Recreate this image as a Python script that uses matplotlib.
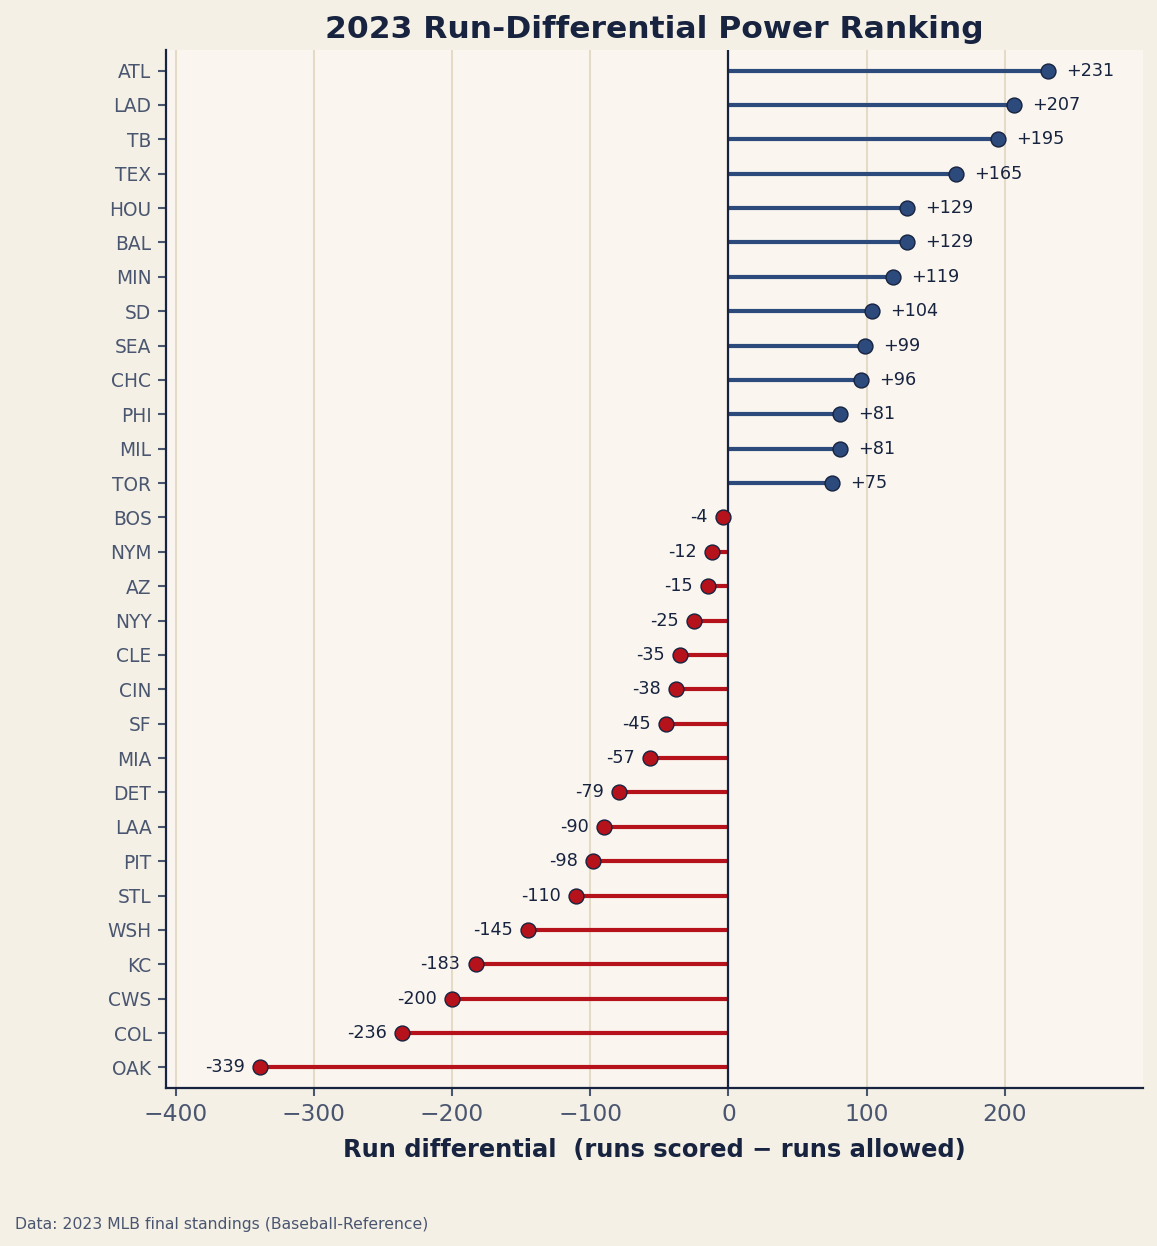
import matplotlib
matplotlib.use("Agg")
import matplotlib.pyplot as plt

teams = ["ATL", "LAD", "TB", "TEX", "HOU", "BAL", "MIN", "SD", "SEA", "CHC",
         "PHI", "MIL", "TOR", "BOS", "NYM", "AZ", "NYY", "CLE", "CIN", "SF",
         "MIA", "DET", "LAA", "PIT", "STL", "WSH", "KC", "CWS", "COL", "OAK"]
run_diff = [231, 207, 195, 165, 129, 129, 119, 104, 99, 96,
            81, 81, 75, -4, -12, -15, -25, -35, -38, -45,
            -57, -79, -90, -98, -110, -145, -183, -200, -236, -339]

NAVY = "#17233f"
BLUE = "#2c4a7c"
RED = "#b5121b"
FIG_BG = "#f4f0e6"
AX_BG = "#faf6ef"
GRID = "#e4dbc7"
TICK = "#4a5670"

fig = plt.figure(figsize=(11.57, 12.46), dpi=100, facecolor=FIG_BG)
ax = fig.add_axes([166/1157, 1 - 1088/1246, (1143-166)/1157, (1088-50)/1246])
ax.set_facecolor(AX_BG)

n = len(teams)
ypos = list(range(n - 1, -1, -1))
for y, v in zip(ypos, run_diff):
    c = BLUE if v > 0 else RED
    ax.plot([0, v], [y, y], color=c, lw=3, solid_capstyle="butt", zorder=2)
    ax.scatter([v], [y], s=115, color=c, edgecolor=NAVY, linewidth=1, zorder=3)
    if v > 0:
        ax.annotate(f"+{v}", (v, y), xytext=(13, 0), textcoords="offset points",
                    ha="left", va="center", fontsize=12.7, color=NAVY)
    else:
        ax.annotate(f"{v}", (v, y), xytext=(-11, 0), textcoords="offset points",
                    ha="right", va="center", fontsize=12.7, color=NAVY)

ax.axvline(0, color=NAVY, lw=1.6, zorder=2.5)
ax.set_xlim(-407, 300)
ax.set_ylim(-0.6, n - 1 + 0.6)
ax.set_yticks(ypos)
ax.set_yticklabels(teams)
ax.set_xticks([-400, -300, -200, -100, 0, 100, 200])
ax.xaxis.grid(True, color=GRID, lw=1.5, zorder=0)
ax.set_axisbelow(True)

for s in ["top", "right"]:
    ax.spines[s].set_visible(False)
for s in ["left", "bottom"]:
    ax.spines[s].set_color(NAVY)
    ax.spines[s].set_linewidth(1.6)

ax.tick_params(axis="y", labelsize=13.4, colors=TICK, length=6, width=1.5, pad=4.5)
ax.tick_params(axis="x", labelsize=16.8, colors=TICK, length=6, width=1.5, pad=4.5)
for lab in ax.get_yticklabels() + ax.get_xticklabels():
    lab.set_color(TICK)

ax.set_xlabel("Run differential  (runs scored \u2212 runs allowed)", fontsize=17.4,
              fontweight="bold", color=NAVY, labelpad=9)
ax.set_title("2023 Run-Differential Power Ranking", fontsize=22.6, fontweight="bold",
             color=NAVY, pad=9)

fig.text(15/1157, 1 - 1224/1246, "Data: 2023 MLB final standings (Baseball-Reference)",
         fontsize=11.25, color=TICK, ha="left", va="center")

fig.savefig("out.png", dpi=100, facecolor=FIG_BG)
